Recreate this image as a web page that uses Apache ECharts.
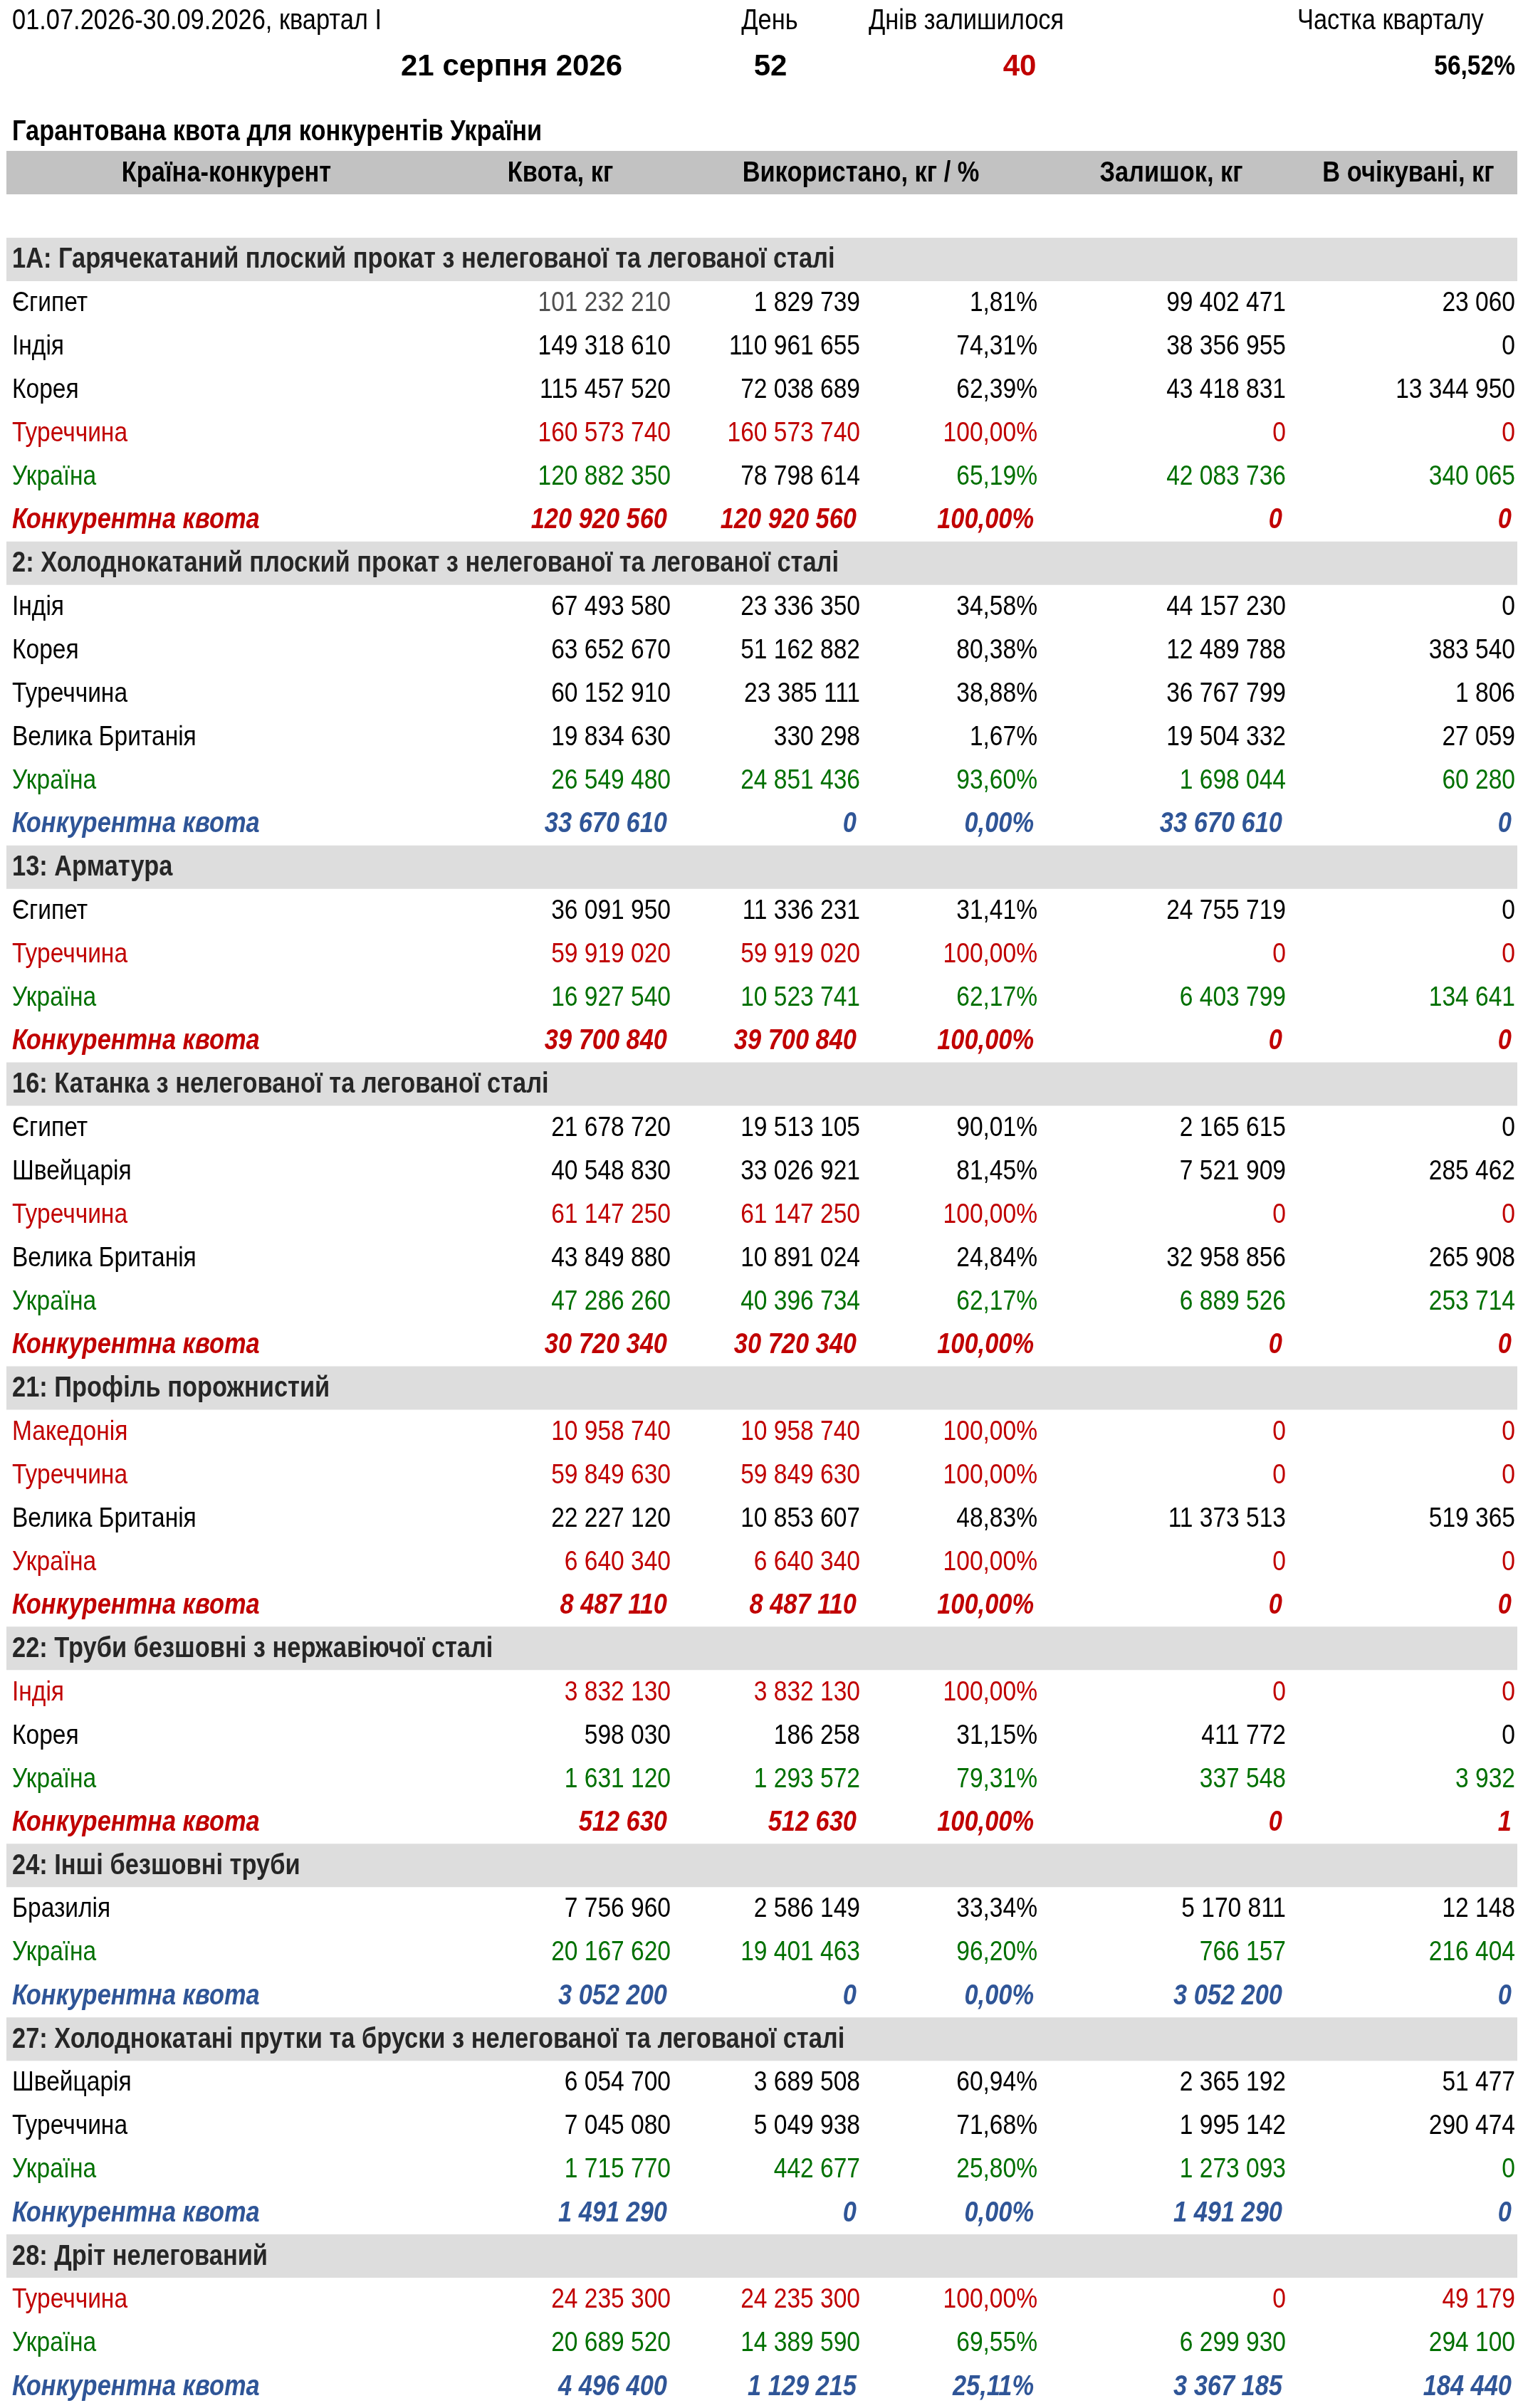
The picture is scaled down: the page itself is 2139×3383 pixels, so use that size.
<!DOCTYPE html>
<html>
<head>
<meta charset="utf-8">
<script src="https://cdn.jsdelivr.net/npm/echarts@6/dist/echarts.min.js"></script>
<style>
html,body{margin:0;padding:0;background:#fff;overflow:hidden;}
#chart{width:2139px;height:3383px;}
</style>
</head>
<body>
<div id="chart"></div>
<script>
// ---------------- DATA ----------------
const periodLabel = '01.07.2026-30.09.2026, квартал І';
const dateLabel = '21 серпня 2026';
const dayLabel = 'День';
const dayValue = 52;
const daysLeftLabel = 'Днів залишилося';
const daysLeftValue = 40;
const shareLabel = 'Частка кварталу';
const shareValue = 56.52;
const tableTitle = 'Гарантована квота для конкурентів України';
const columnHeaders = ['Країна-конкурент', 'Квота, кг', 'Використано, кг / %', 'Залишок, кг', 'В очікувані, кг'];

const sectionTitles = [
  '1A: Гарячекатаний плоский прокат з нелегованої та легованої сталі',
  '2: Холоднокатаний плоский прокат з нелегованої та легованої сталі',
  '13: Арматура',
  '16: Катанка з нелегованої та легованої сталі',
  '21: Профіль порожнистий',
  '22: Труби безшовні з нержавіючої сталі',
  '24: Інші безшовні труби',
  '27: Холоднокатані прутки та бруски з нелегованої та легованої сталі',
  '28: Дріт нелегований'
];

const countries = [
  'Єгипет','Індія','Корея','Туреччина','Україна','Конкурентна квота',
  'Індія','Корея','Туреччина','Велика Британія','Україна','Конкурентна квота',
  'Єгипет','Туреччина','Україна','Конкурентна квота',
  'Єгипет','Швейцарія','Туреччина','Велика Британія','Україна','Конкурентна квота',
  'Македонія','Туреччина','Велика Британія','Україна','Конкурентна квота',
  'Індія','Корея','Україна','Конкурентна квота',
  'Бразилія','Україна','Конкурентна квота',
  'Швейцарія','Туреччина','Україна','Конкурентна квота',
  'Туреччина','Україна','Конкурентна квота'
];
const rowSection = [
  0,0,0,0,0,0,
  1,1,1,1,1,1,
  2,2,2,2,
  3,3,3,3,3,3,
  4,4,4,4,4,
  5,5,5,5,
  6,6,6,
  7,7,7,7,
  8,8,8
];
const quota = [
  101232210,149318610,115457520,160573740,120882350,120920560,
  67493580,63652670,60152910,19834630,26549480,33670610,
  36091950,59919020,16927540,39700840,
  21678720,40548830,61147250,43849880,47286260,30720340,
  10958740,59849630,22227120,6640340,8487110,
  3832130,598030,1631120,512630,
  7756960,20167620,3052200,
  6054700,7045080,1715770,1491290,
  24235300,20689520,4496400
];
const used = [
  1829739,110961655,72038689,160573740,78798614,120920560,
  23336350,51162882,23385111,330298,24851436,0,
  11336231,59919020,10523741,39700840,
  19513105,33026921,61147250,10891024,40396734,30720340,
  10958740,59849630,10853607,6640340,8487110,
  3832130,186258,1293572,512630,
  2586149,19401463,0,
  3689508,5049938,442677,0,
  24235300,14389590,1129215
];
const usedPct = [
  1.81,74.31,62.39,100,65.19,100,
  34.58,80.38,38.88,1.67,93.60,0,
  31.41,100,62.17,100,
  90.01,81.45,100,24.84,62.17,100,
  100,100,48.83,100,100,
  100,31.15,79.31,100,
  33.34,96.20,0,
  60.94,71.68,25.80,0,
  100,69.55,25.11
];
const remaining = [
  99402471,38356955,43418831,0,42083736,0,
  44157230,12489788,36767799,19504332,1698044,33670610,
  24755719,0,6403799,0,
  2165615,7521909,0,32958856,6889526,0,
  0,0,11373513,0,0,
  0,411772,337548,0,
  5170811,766157,3052200,
  2365192,1995142,1273093,1491290,
  0,6299930,3367185
];
const pending = [
  23060,0,13344950,0,340065,0,
  0,383540,1806,27059,60280,0,
  0,0,134641,0,
  0,285462,0,265908,253714,0,
  0,0,519365,0,0,
  0,0,3932,1,
  12148,216404,0,
  51477,290474,0,0,
  49179,294100,184440
];

// ---------------- STYLES (kept apart from data) ----------------
const rowTone = [
  'plain','plain','plain','red','green','compRed',
  'plain','plain','plain','plain','green','compBlue',
  'plain','red','green','compRed',
  'plain','plain','red','plain','green','compRed',
  'red','red','plain','red','compRed',
  'red','plain','green','compRed',
  'plain','green','compBlue',
  'plain','plain','green','compBlue',
  'red','green','compBlue'
];
const toneOverrides = [
  {row: 0, col: 1, tone: 'grey'},
  {row: 4, col: 2, tone: 'plain'}
];
const TONES = {
  plain:    {fill:'#000000', weight:'normal', style:'normal', size:39},
  grey:     {fill:'#505050', weight:'normal', style:'normal', size:39},
  red:      {fill:'#C00000', weight:'normal', style:'normal', size:39},
  green:    {fill:'#007000', weight:'normal', style:'normal', size:39},
  compRed:  {fill:'#C00000', weight:'bold', style:'italic', size:40},
  compBlue: {fill:'#2F5597', weight:'bold', style:'italic', size:40},
  section:  {fill:'#262626', weight:'bold', style:'normal', size:40},
  head:     {fill:'#000000', weight:'bold', style:'normal', size:40}
};
const FONT_FAMILY = '"Liberation Sans", Arial, Helvetica, sans-serif';
const SCALE_X = 0.86;
const ROW_H = 61;
const GRID_TOP = 212;
const NAME_X = 17;
const COL_RIGHT = [942, 1208, 1457, 1806, 2128];
const HEAD_CENTER = [318, 787, 1209, 1645, 1978];
const ITALIC_SHIFT = 5;
const BAND_X0 = 9, BAND_X1 = 2131;
const HEAD_BAND = '#C2C2C2';
const SECTION_BAND = '#DDDDDD';

// ---------------- HELPERS ----------------
function fmtInt(n){ return String(n).replace(/\B(?=(\d{3})+(?!\d))/g, ' '); }
function fmtPct(n){ return n.toFixed(2).replace('.', ',') + '%'; }
function font(t, size){ return t.style + ' ' + t.weight + ' ' + size + 'px ' + FONT_FAMILY; }

// ---------------- BUILD TABLE ROWS ----------------
const rowKeys = ['head', 'gap'];
const bands = [];
const cells = [];
bands.push({row: 0, kind: 'head'});
columnHeaders.forEach(function(h, c){
  cells.push({col: c, row: 0, text: h, tone: 'head', align: 'center', head: true});
});
let lastSection = -1;
countries.forEach(function(name, i){
  if (rowSection[i] !== lastSection) {
    lastSection = rowSection[i];
    const r = rowKeys.length;
    rowKeys.push('s' + lastSection);
    bands.push({row: r, kind: 'section'});
    cells.push({col: 0, row: r, text: sectionTitles[lastSection], tone: 'section', align: 'left'});
  }
  const r = rowKeys.length;
  rowKeys.push('r' + i);
  const vals = [name, fmtInt(quota[i]), fmtInt(used[i]), fmtPct(usedPct[i]), fmtInt(remaining[i]), fmtInt(pending[i])];
  vals.forEach(function(v, c){
    let tone = rowTone[i];
    toneOverrides.forEach(function(o){ if (o.row === i && o.col === c) tone = o.tone; });
    cells.push({col: c, row: r, text: v, tone: tone, align: c === 0 ? 'left' : 'right'});
  });
});

// ---------------- CHART ----------------
const chart = echarts.init(document.getElementById('chart'), null, {renderer: 'canvas'});

function textEl(x, y, text, t, size, align, sx){
  return {
    type: 'text', x: x, y: y, scaleX: sx == null ? SCALE_X : sx, originX: 0, originY: 0,
    style: {
      text: text, x: 0, y: 0, fill: t.fill, font: font(t, size),
      align: align, textAlign: align, verticalAlign: 'middle', textVerticalAlign: 'middle'
    }
  };
}
const boldRed = {fill:'#C00000', weight:'bold', style:'normal'};

const option = {
  animation: false,
  backgroundColor: '#ffffff',
  grid: {left: 0, right: 0, top: GRID_TOP, height: ROW_H * rowKeys.length, containLabel: false},
  xAxis: {type: 'value', min: 0, max: 2139, show: false},
  yAxis: {type: 'category', data: rowKeys, inverse: true, show: false},
  graphic: [
    textEl(17, 30, periodLabel, TONES.plain, 40, 'left'),
    textEl(1081, 30, dayLabel, TONES.plain, 40, 'center'),
    textEl(1220, 30, daysLeftLabel, TONES.plain, 40, 'left'),
    textEl(1822, 30, shareLabel, TONES.plain, 40, 'left'),
    textEl(563, 94, dateLabel, TONES.head, 42, 'left', 1),
    textEl(1082, 94, String(dayValue), TONES.head, 42, 'center', 1),
    textEl(1432, 94, String(daysLeftValue), boldRed, 42, 'center', 1),
    textEl(2128, 94, fmtPct(shareValue), TONES.head, 39, 'right'),
    textEl(17, 186, tableTitle, TONES.head, 40, 'left')
  ],
  series: [
    {
      type: 'custom',
      silent: true,
      data: bands.map(function(b){ return [0, b.row]; }),
      renderItem: function(params, api){
        const b = bands[params.dataIndex];
        const p0 = api.coord([BAND_X0, api.value(1)]);
        const p1 = api.coord([BAND_X1, api.value(1)]);
        const h = api.size([0, 1])[1];
        return {
          type: 'rect',
          shape: {x: p0[0], y: p0[1] - h / 2, width: p1[0] - p0[0], height: h},
          style: {fill: b.kind === 'head' ? HEAD_BAND : SECTION_BAND}
        };
      }
    },
    {
      type: 'custom',
      silent: true,
      data: cells.map(function(c){ return [c.col, c.row]; }),
      renderItem: function(params, api){
        const c = cells[params.dataIndex];
        const t = TONES[c.tone];
        let ax;
        if (c.head) ax = HEAD_CENTER[c.col];
        else if (c.col === 0) ax = NAME_X;
        else ax = COL_RIGHT[c.col - 1] - (t.style === 'italic' ? ITALIC_SHIFT : 0);
        const p = api.coord([ax, api.value(1)]);
        return textEl(p[0], p[1] + 1, c.text, t, t.size, c.align);
      }
    }
  ]
};
chart.setOption(option);
</script>
</body>
</html>
